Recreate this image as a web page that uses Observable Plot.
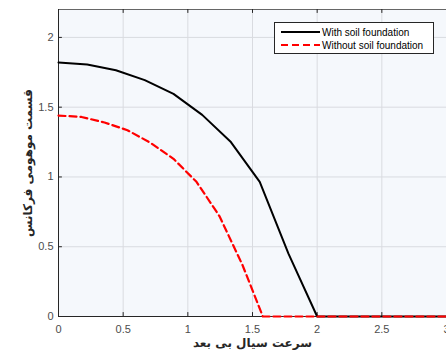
<!DOCTYPE html>
<html><head><meta charset="utf-8">
<script src="https://cdn.jsdelivr.net/npm/d3@7"></script>
<script src="https://cdn.jsdelivr.net/npm/@observablehq/plot@0.6"></script>
<style>
body{margin:0;background:#fff;}
#wrap{position:relative;width:446px;height:354px;overflow:hidden;}
#legend{position:absolute;left:274px;top:22px;width:160px;height:32px;background:#fff;border:1px solid #262626;font:10px "Liberation Sans",Arial,sans-serif;color:#000;box-sizing:border-box;}
#legend .row{position:absolute;left:6px;height:12px;display:flex;align-items:center;}
#legend svg{margin-right:2px;}
</style></head>
<body><div id="wrap"><div id="legend"></div></div>
<script>
const velWith = [0, 0.222, 0.444, 0.667, 0.889, 1.111, 1.333, 1.556, 1.778, 2.0, 3.0];
const imagWith = [1.82, 1.806, 1.765, 1.694, 1.595, 1.445, 1.25, 0.965, 0.45, 0, 0];
const velWithout = [0, 0.178, 0.356, 0.533, 0.711, 0.889, 1.067, 1.244, 1.422, 1.58, 3.0];
const imagWithout = [1.44, 1.43, 1.39, 1.335, 1.245, 1.13, 0.965, 0.72, 0.37, 0, 0];
const xTicks = [0, 0.5, 1, 1.5, 2, 2.5, 3];
const yTicks = [0, 0.5, 1, 1.5, 2];
const seriesNames = ["With soil foundation", "Without soil foundation"];
const xLabel = "سرعت سیال بی بعد";
const yLabel = "قسمت موهومی فرکانس";

const withData = velWith.map((v, i) => ({x: v, y: imagWith[i]}));
const withoutData = velWithout.map((v, i) => ({x: v, y: imagWithout[i]}));

const tickFont = {fontFamily: "'Liberation Sans', Arial, sans-serif", fontSize: 11, fill: "#4d4d4d"};
const labelFont = {fontFamily: "'DejaVu Sans', sans-serif", fontWeight: "bold", fontSize: 12, fill: "#262626"};
const xMax = 3, yMax = 2.2;

const chart = Plot.plot({
  width: 446, height: 354,
  marginLeft: 58, marginRight: 0, marginTop: 9, marginBottom: 38,
  x: {type: "linear", domain: [0, xMax], axis: null},
  y: {type: "linear", domain: [0, yMax], axis: null},
  style: {background: "transparent", overflow: "visible"},
  marks: [
    Plot.frame({fill: "#f5f8fc", stroke: null}),
    Plot.ruleX(xTicks.slice(1), {x: d => d, stroke: "#d9dbe0", strokeWidth: 1}),
    Plot.ruleY(yTicks.slice(1), {y: d => d, stroke: "#d9dbe0", strokeWidth: 1}),
    Plot.frame({stroke: "#666", strokeWidth: 1}),
    Plot.ruleY([0], {y: d => d, stroke: "#262626", strokeWidth: 1}),
    Plot.ruleX([0], {x: d => d, stroke: "#262626", strokeWidth: 1}),
    Plot.ruleX(xTicks, {x: d => d, y1: 0, y2: 0.028, stroke: "#262626", strokeWidth: 1}),
    Plot.ruleX(xTicks, {x: d => d, y1: yMax - 0.028, y2: yMax, stroke: "#262626", strokeWidth: 1}),
    Plot.ruleY(yTicks, {y: d => d, x1: 0, x2: 0.03, stroke: "#262626", strokeWidth: 1}),
    Plot.line(withData, {x: "x", y: "y", stroke: "#000", strokeWidth: 2}),
    Plot.line(withoutData, {x: "x", y: "y", stroke: "#ff0000", strokeWidth: 2.2, strokeDasharray: "7,4"}),
    Plot.text(xTicks, {x: d => d, y: 0, text: d => String(d), dy: 13, ...tickFont}),
    Plot.text(yTicks, {x: 0, y: d => d, text: d => String(d), dx: -5, textAnchor: "end", ...tickFont}),
    Plot.text([xLabel], {frameAnchor: "bottom", text: d => d, dy: 30, ...labelFont}),
    Plot.text([yLabel], {frameAnchor: "left", textAnchor: "middle", text: d => d, dx: -30, rotate: -90, ...labelFont})
  ]
});
document.getElementById("wrap").prepend(chart);

const legend = document.getElementById("legend");
const styles = [{stroke: "#000", dash: ""}, {stroke: "#ff0000", dash: "7,4"}];
seriesNames.forEach((name, i) => {
  const row = document.createElement("div");
  row.className = "row";
  row.style.top = (3 + i * 13) + "px";
  row.innerHTML = `<svg width="39" height="6"><line x1="0" y1="3" x2="39" y2="3" stroke="${styles[i].stroke}" stroke-width="2" ${styles[i].dash ? `stroke-dasharray="${styles[i].dash}"` : ""}/></svg><span>${name}</span>`;
  legend.appendChild(row);
});
</script></body></html>
